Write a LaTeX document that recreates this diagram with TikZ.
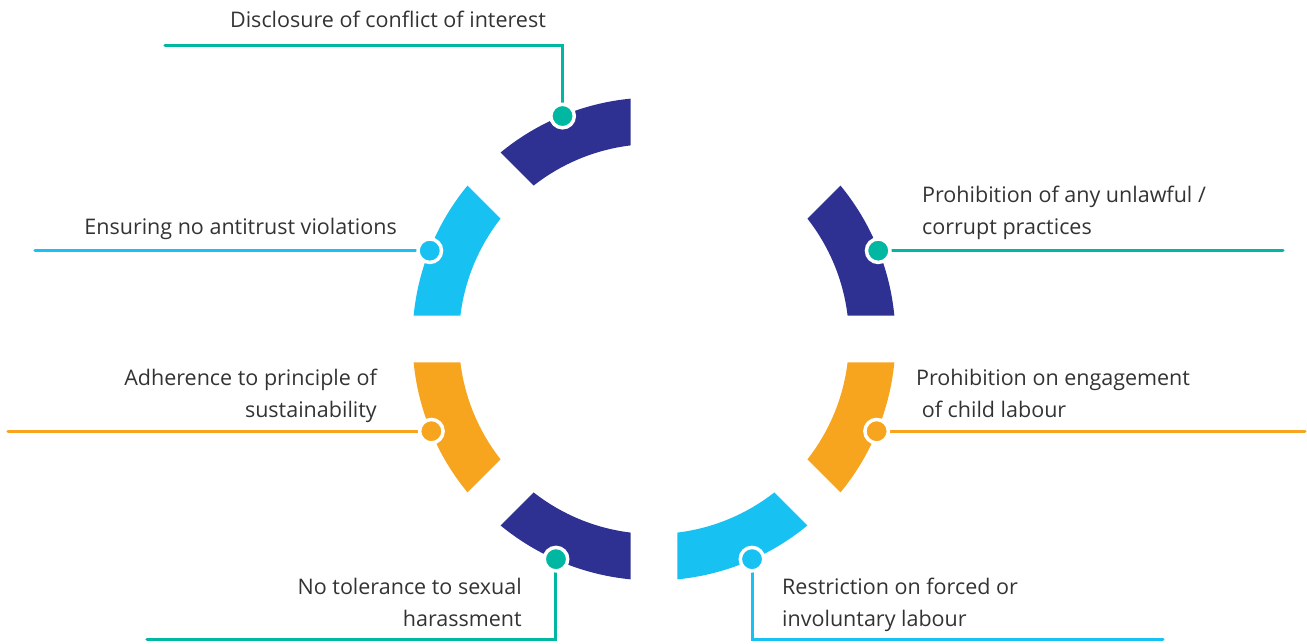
\documentclass[tikz,border=0pt]{standalone}
\usepackage{fontspec}
\setmainfont{Open Sans}
\usepackage{tikz}
\usepackage{xcolor}
\definecolor{ringdark}{HTML}{2E3192}
\definecolor{ringlight}{HTML}{17C1F2}
\definecolor{ringorange}{HTML}{F7A51F}
\definecolor{linkteal}{HTML}{00B7A1}
\definecolor{txtgray}{HTML}{333333}

\begin{document}
\begin{tikzpicture}[x=1pt, y=1pt,
  lbl/.style={font=\fontsize{21.5}{32}\selectfont, text=txtgray, inner sep=0pt},
  lblL/.style={lbl, anchor=base west, align=left},
  lblR/.style={lbl, anchor=base east, align=right},
  link/.style={line width=3pt, line cap=round},
  dot/.style={circle, fill=#1, draw=white, line width=3.5pt, minimum size=23.5pt, inner sep=0pt},
]
\useasboundingbox (-654,-305) rectangle (653,339);
% ring segments: gaps of equal width on the radial lines
\def\Ro{241.5} \def\Ri{195} \def\gap{23.5}
\pgfmathsetmacro\aO{asin(\gap/\Ro)}
\pgfmathsetmacro\aI{asin(\gap/\Ri)}
\foreach \a/\c in {0/ringdark, 90/ringdark, 135/ringlight, 180/ringorange,
                   225/ringdark, 270/ringlight, 315/ringorange}{
  \pgfmathsetmacro\sO{\a+\aO} \pgfmathsetmacro\eO{\a+45-\aO}
  \pgfmathsetmacro\sI{\a+\aI} \pgfmathsetmacro\eI{\a+45-\aI}
  \fill[\c] (\sO:\Ro) arc[start angle=\sO, end angle=\eO, radius=\Ro]
    -- (\eI:\Ri) arc[start angle=\eI, end angle=\sI, radius=\Ri] -- cycle;
}
% dot positions
\coordinate (pTop) at (112.3:241);
\coordinate (pLT)  at (158.5:241);
\coordinate (pLB)  at (202.5:241);
\coordinate (pBot) at (246:241);
\coordinate (pBR)  at (294:241);
\coordinate (pRB)  at (337.5:241);
\coordinate (pRT)  at (21.5:241);
% free ends of the connectors
\coordinate (eTop) at (-489,293);
\coordinate (eLT)  at (-619,0);
\coordinate (eLB)  at (-646,0);
\coordinate (eBot) at (-507,-301);
\coordinate (eBR)  at (509,-301);
\coordinate (eRB)  at (651,0);
\coordinate (eRT)  at (629,0);

\draw[link, linkteal]   (pTop) |- (eTop);
\draw[link, ringlight]  (pLT) -- (pLT -| eLT);
\draw[link, ringorange] (pLB) -- (pLB -| eLB);
\draw[link, linkteal]   (pBot) |- (eBot);
\draw[link, ringlight]  (pBR) |- (eBR);
\draw[link, ringorange] (pRB) -- (pRB -| eRB);
\draw[link, linkteal]   (pRT) -- (pRT -| eRT);

\node[dot=linkteal]   (dTop) at (pTop) {};
\node[dot=ringlight]  (dLT)  at (pLT)  {};
\node[dot=ringorange] (dLB)  at (pLB)  {};
\node[dot=linkteal]   (dBot) at (pBot) {};
\node[dot=ringlight]  (dBR)  at (pBR)  {};
\node[dot=ringorange] (dRB)  at (pRB)  {};
\node[dot=linkteal]   (dRT)  at (pRT)  {};

% labels (base = last line)
\node[lbl, anchor=base] (tTop) at (-266,311) {Disclosure of conflict of interest};
\node[lblR] (tLT)  at (-257,104)  {Ensuring no antitrust violations};
\node[lblR] (tLB)  at (-277,-79)  {Adherence to principle of\\sustainability};
\node[lblR] (tBot) at (-132,-288) {No tolerance to sexual\\harassment};
\node[lblL] (tRT)  at (268,104)   {Prohibition of any unlawful /\\corrupt practices};
\node[lblL] (tRB)  at (262,-79)   {Prohibition on engagement\\\ of child labour};
\node[lblL] (tBR)  at (128,-288)  {Restriction on forced or\\involuntary labour};
\end{tikzpicture}
\end{document}
